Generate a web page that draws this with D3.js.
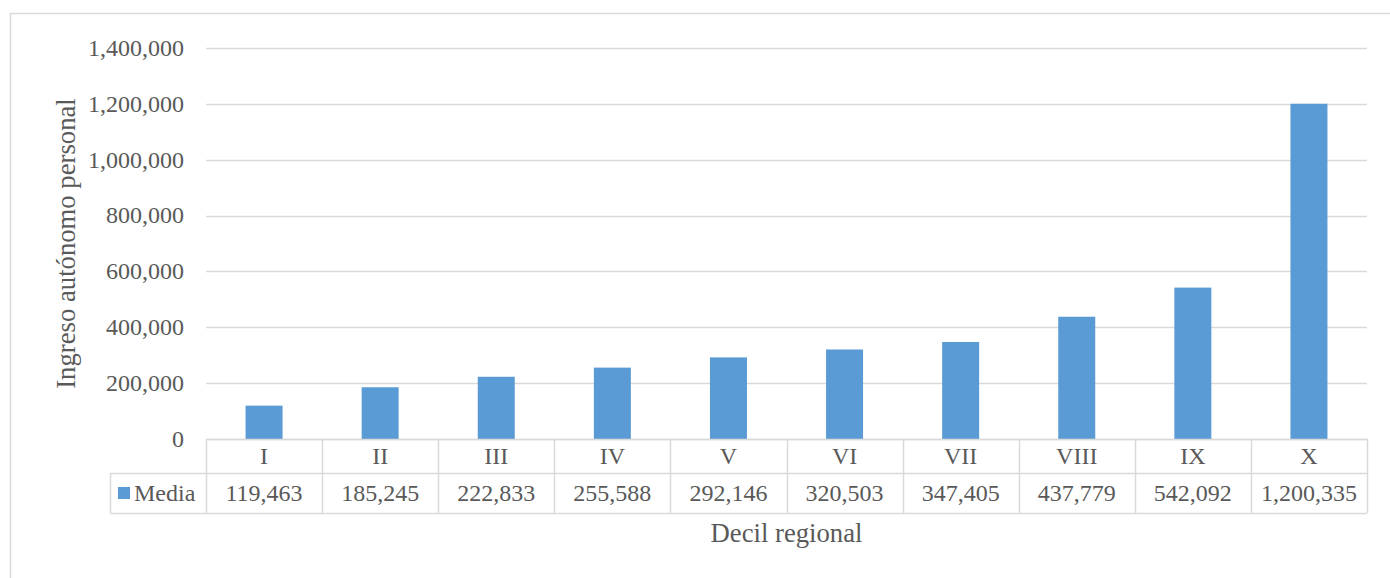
<!DOCTYPE html>
<html>
<head>
<meta charset="utf-8">
<script src="https://cdn.jsdelivr.net/npm/d3@7"></script>
<style>
  body { margin: 0; background: #fff; }
  text { font-family: "Liberation Serif", "Times New Roman", serif; fill: #595959; }
</style>
</head>
<body>
<div id="chart"></div>
<script>
var width = 1390,
    height = 578;

var deciles = ["I", "II", "III", "IV", "V", "VI", "VII", "VIII", "IX", "X"];
var media = [119463, 185245, 222833, 255588, 292146, 320503, 347405, 437779, 542092, 1200335];
var yTicks = [0, 200000, 400000, 600000, 800000, 1000000, 1200000, 1400000];

var plotLeft = 206, plotRight = 1367, plotTop = 48, plotBottom = 439;

var svg = d3.select("#chart").append("svg")
    .attr("width", width)
    .attr("height", height);

// outer frame
svg.append("rect")
    .attr("x", 10.5).attr("y", 13.5)
    .attr("width", width).attr("height", height)
    .attr("fill", "none")
    .attr("stroke", "#d9d9d9")
    .attr("stroke-width", 1.5);

var x = d3.scaleBand()
    .domain(deciles)
    .range([plotLeft, plotRight]);

var y = d3.scaleLinear()
    .domain([0, 1400000])
    .range([plotBottom, plotTop]);

var fmt = d3.format(",");

// gridlines + y labels
svg.selectAll(".grid")
    .data(yTicks)
    .enter().append("line")
    .attr("x1", plotLeft).attr("x2", plotRight)
    .attr("y1", function(d) { return Math.round(y(d)) + 0.5; })
    .attr("y2", function(d) { return Math.round(y(d)) + 0.5; })
    .attr("stroke", "#d9d9d9")
    .attr("stroke-width", 1.5);

svg.selectAll(".ylab")
    .data(yTicks)
    .enter().append("text")
    .attr("x", 184)
    .attr("y", function(d) { return y(d); })
    .attr("dy", "0.33em")
    .attr("text-anchor", "end")
    .style("font-size", "24px")
    .text(function(d) { return fmt(d); });

// bars
var barW = 37;
svg.selectAll(".bar")
    .data(media)
    .enter().append("rect")
    .attr("x", function(d, i) { return x(deciles[i]) + x.bandwidth() / 2 - barW / 2; })
    .attr("y", function(d) { return y(d); })
    .attr("width", barW)
    .attr("height", function(d) { return y(0) - y(d); })
    .attr("fill", "#5b9bd5");

// data table
var row1 = 473, row2 = 513, tableLeft = 110;
var grid = svg.append("g")
    .attr("stroke", "#d9d9d9")
    .attr("stroke-width", 1.5)
    .attr("fill", "none");

grid.append("line").attr("x1", plotLeft).attr("x2", plotRight).attr("y1", plotBottom + 0.5).attr("y2", plotBottom + 0.5);
grid.append("line").attr("x1", tableLeft).attr("x2", plotRight).attr("y1", row1 + 0.5).attr("y2", row1 + 0.5);
grid.append("line").attr("x1", tableLeft).attr("x2", plotRight).attr("y1", row2 + 0.5).attr("y2", row2 + 0.5);
grid.append("line").attr("x1", tableLeft + 0.5).attr("x2", tableLeft + 0.5).attr("y1", row1).attr("y2", row2);

var edges = deciles.map(function(d) { return x(d); }).concat([plotRight]);
grid.selectAll(".vline")
    .data(edges)
    .enter().append("line")
    .attr("x1", function(d) { return Math.round(d) + 0.5; })
    .attr("x2", function(d) { return Math.round(d) + 0.5; })
    .attr("y1", plotBottom)
    .attr("y2", row2);

svg.selectAll(".cat")
    .data(deciles)
    .enter().append("text")
    .attr("x", function(d) { return x(d) + x.bandwidth() / 2; })
    .attr("y", (plotBottom + row1) / 2)
    .attr("dy", "0.35em")
    .attr("text-anchor", "middle")
    .style("font-size", "24px")
    .text(function(d) { return d; });

svg.selectAll(".val")
    .data(media)
    .enter().append("text")
    .attr("x", function(d, i) { return x(deciles[i]) + x.bandwidth() / 2; })
    .attr("y", (row1 + row2) / 2)
    .attr("dy", "0.35em")
    .attr("text-anchor", "middle")
    .style("font-size", "24px")
    .text(function(d) { return fmt(d); });

// legend cell
svg.append("rect")
    .attr("x", 118).attr("y", 487)
    .attr("width", 12).attr("height", 12)
    .attr("fill", "#5b9bd5");
svg.append("text")
    .attr("x", 134)
    .attr("y", (row1 + row2) / 2)
    .attr("dy", "0.35em")
    .style("font-size", "24px")
    .text("Media");

// axis titles
svg.append("text")
    .attr("transform", "translate(75," + ((plotTop + plotBottom) / 2) + ") rotate(-90)")
    .attr("text-anchor", "middle")
    .style("font-size", "26.7px")
    .text("Ingreso autónomo personal");

svg.append("text")
    .attr("x", (plotLeft + plotRight) / 2)
    .attr("y", 542)
    .attr("text-anchor", "middle")
    .style("font-size", "26.7px")
    .text("Decil regional");
</script>
</body>
</html>
